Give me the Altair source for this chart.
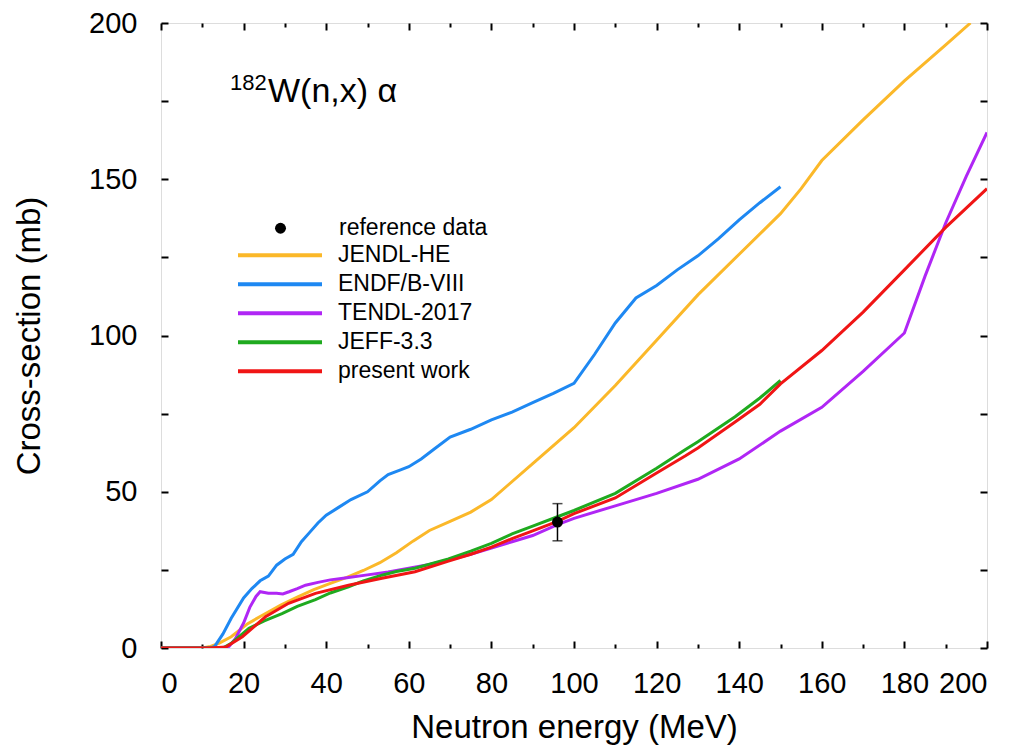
import altair as alt
import pandas as pd

# ---------------- data ----------------
series_names = ["JENDL-HE", "ENDF/B-VIII", "TENDL-2017", "JEFF-3.3", "present work"]
series_colors = ["#FBB829", "#1E88F2", "#B026F5", "#1FAA1F", "#F01515"]

jendl_E = [0, 10, 12, 14, 17, 21, 25, 29, 33, 37, 41, 45, 49, 53, 57, 61, 65, 70, 75, 80,
           90, 100, 110, 120, 130, 140, 150, 155, 160, 170, 180, 190, 196]
jendl_S = [0, 0, 0.5, 1.5, 3.6, 7.8, 10.8, 13.7, 16.3, 18.7, 20.7, 22.6, 24.8, 27.3, 30.5, 34.2,
           37.6, 40.5, 43.5, 47.5, 59, 70.5, 84, 98.5, 113, 126, 139, 147, 156, 169, 181.5, 193, 200]

endf_E = [0, 12, 13, 15, 17, 20, 22, 24, 26, 28, 30, 32, 34, 36, 38, 40, 43, 46, 50, 53, 55, 58,
          60, 63, 66, 70, 75, 80, 85, 90, 95, 100, 105, 110, 115, 120, 125, 130, 135, 140, 145, 150]
endf_S = [0, 0, 0.5, 4.5, 9.5, 16, 19, 21.5, 23, 26.5, 28.5, 30, 34, 37, 40, 42.5, 45, 47.5, 50,
          53.5, 55.5, 57, 58, 60.5, 63.5, 67.5, 70, 73, 75.5, 78.5, 81.5, 84.7, 94, 104, 112, 116,
          121, 125.5, 131, 137, 142.5, 147.6]

tendl_E = [0, 14, 16.5, 18, 20, 21.5, 23, 24, 26, 28, 29.5, 31, 33, 35, 38, 41, 45, 50, 55, 60,
           65, 70, 75, 80, 85, 90, 96, 100, 110, 120, 130, 140, 150, 160, 170, 180, 185, 190, 195, 200]
tendl_S = [0, 0, 0.5, 3, 8, 13, 16.5, 18, 17.5, 17.5, 17.3, 18, 19, 20.1, 21, 21.8, 22.5, 23.4,
           24.3, 25.5, 26.7, 28.3, 30, 32, 34, 36, 39.5, 41.5, 45.5, 49.5, 54, 60.5, 69.4, 77,
           88.5, 100.8, 119, 136, 151, 165]

jeff_E = [0, 15, 17, 21.3, 25, 29.3, 33, 37.4, 41, 45.4, 49, 53.5, 57, 61.5, 65, 69.6, 75, 80,
          85, 90, 96, 100, 110, 120, 127, 130, 139, 145, 150]
jeff_S = [0, 0, 1.5, 6.3, 8.7, 11, 13.3, 15.5, 17.6, 19.6, 21.5, 23.3, 24.5, 25.5, 26.8, 28.5,
          31, 33.5, 36.5, 39, 42, 44, 49.5, 57.5, 63.5, 66, 74, 80, 85.6]

present_E = [0, 12, 15.7, 19.7, 25.3, 30.9, 37.4, 45.4, 53.5, 61.5, 69.6, 75, 80, 85, 90, 96,
             100, 110, 120, 127, 130, 139, 145, 150, 160, 170, 180, 190, 200]
present_S = [0, 0, 0.3, 3.6, 10, 14.3, 17.5, 20.1, 22.3, 24.4, 27.8, 30, 32.3, 35, 37.5, 40.5,
             43, 48, 56, 61.5, 64, 72.3, 78, 84.5, 95.2, 107.5, 121, 134.6, 147]

ref_label = ["reference data"]
ref_E = [96]
ref_S = [40.3]
ref_lo = [34.3]
ref_hi = [46.2]

x_label_values = list(range(0, 201, 20))
x_minor_values = list(range(10, 200, 20))
y_label_values = list(range(0, 201, 50))
y_tick_values = list(range(0, 201, 25))

iso_mass = ["182"]
reaction = ["W(n,x) \u03b1"]

# ---------------- tables ----------------
rows = []
for name, es, ss in zip(series_names,
                        [jendl_E, endf_E, tendl_E, jeff_E, present_E],
                        [jendl_S, endf_S, tendl_S, jeff_S, present_S]):
    for i, (e, s) in enumerate(zip(es, ss)):
        rows.append({"series": name, "E": e, "sigma": s, "idx": i})
lines_df = pd.DataFrame(rows)

ref_df = pd.DataFrame({"kind": ref_label, "E": ref_E, "sigma": ref_S,
                       "lo": ref_lo, "hi": ref_hi})

FONT = "Liberation Sans"
xs = alt.Scale(domain=[0, 200], nice=False, zero=False)
ys = alt.Scale(domain=[0, 200], nice=False, zero=False)


def tick_axis(orient, values, size):
    return alt.Axis(orient=orient, values=values, tickSize=size, offset=-size,
                    labels=False, domain=False, grid=False, title=None, ticks=True,
                    tickColor="black", tickWidth=2)


x_main = alt.Axis(orient="bottom", values=x_label_values, ticks=False, domain=False,
                  grid=False, labelFontSize=29, labelPadding=21, labelColor="black",
                  labelFont=FONT, title="Neutron energy (MeV)", titleFontSize=33,
                  titleFont=FONT, titleFontWeight="normal", titleColor="black",
                  titlePadding=13)
y_main = alt.Axis(orient="left", values=y_label_values, ticks=False, domain=False,
                  grid=False, labelFontSize=29, labelPadding=24, labelColor="black",
                  labelFont=FONT, title="Cross-section (mb)", titleFontSize=33,
                  titleFont=FONT, titleFontWeight="normal", titleColor="black",
                  titlePadding=42)

lines = alt.Chart(lines_df).mark_line(strokeWidth=3, clip=True).encode(
    x=alt.X("E:Q", scale=xs, axis=x_main),
    y=alt.Y("sigma:Q", scale=ys, axis=y_main),
    color=alt.Color("series:N",
                    scale=alt.Scale(domain=series_names, range=series_colors),
                    legend=alt.Legend(orient="none", legendX=75, legendY=218, title=None,
                                      symbolType="stroke", symbolSize=7056,
                                      symbolStrokeWidth=4, clipHeight=28.5, rowPadding=0,
                                      padding=0, labelFontSize=23, labelOffset=14,
                                      labelFont=FONT, labelColor="black")),
    order="idx:Q",
)

err = alt.Chart(ref_df).mark_rule(color="black", strokeWidth=1.5).encode(
    x=alt.X("E:Q", scale=xs, axis=tick_axis("bottom", x_label_values, 7)),
    y=alt.Y("lo:Q", scale=ys, axis=tick_axis("left", y_tick_values, 7)),
    y2="hi:Q",
)

cap_lo = alt.Chart(ref_df).mark_tick(orient="horizontal", size=10, thickness=1.5,
                                     color="black").encode(
    x=alt.X("E:Q", scale=xs, axis=tick_axis("bottom", x_minor_values, 4)),
    y=alt.Y("lo:Q", scale=ys, axis=tick_axis("right", y_tick_values, 7)),
)

cap_hi = alt.Chart(ref_df).mark_tick(orient="horizontal", size=10, thickness=1.5,
                                     color="black").encode(
    x=alt.X("E:Q", scale=xs, axis=tick_axis("top", x_label_values, 7)),
    y=alt.Y("hi:Q", scale=ys, axis=None),
)

point = alt.Chart(ref_df).mark_point(filled=True, size=120, opacity=1,
                                     color="black").encode(
    x=alt.X("E:Q", scale=xs, axis=tick_axis("top", x_minor_values, 4)),
    y=alt.Y("sigma:Q", scale=ys, axis=None),
    shape=alt.Shape("kind:N",
                    scale=alt.Scale(domain=ref_label, range=["circle"]),
                    legend=alt.Legend(orient="none", legendX=108, legendY=191,
                                      title=None, symbolSize=120,
                                      symbolFillColor="black", symbolStrokeColor="black",
                                      symbolStrokeWidth=0, clipHeight=28.5, padding=0,
                                      labelFontSize=23, labelOffset=47,
                                      labelFont=FONT, labelColor="black")),
)

mass_txt = alt.Chart(pd.DataFrame({"t": iso_mass})).mark_text(
    align="left", baseline="alphabetic", fontSize=22, font=FONT, color="black"
).encode(text="t:N", x=alt.value(69), y=alt.value(67))

reac_txt = alt.Chart(pd.DataFrame({"t": reaction})).mark_text(
    align="left", baseline="alphabetic", fontSize=34, font=FONT, color="black"
).encode(text="t:N", x=alt.value(107), y=alt.value(79))

chart = alt.layer(lines, err, cap_lo, cap_hi, point, mass_txt, reac_txt).resolve_axis(
    x="independent", y="independent"
).properties(
    width=826, height=625,
    autosize=alt.AutoSizeParams(type="none"),
    padding={"left": 153, "top": 15, "right": 15, "bottom": 97},
).configure_view(stroke="black", strokeWidth=2).configure(font=FONT, background="white")

chart.save("out.html", embed_options={"renderer": "svg", "actions": False})
